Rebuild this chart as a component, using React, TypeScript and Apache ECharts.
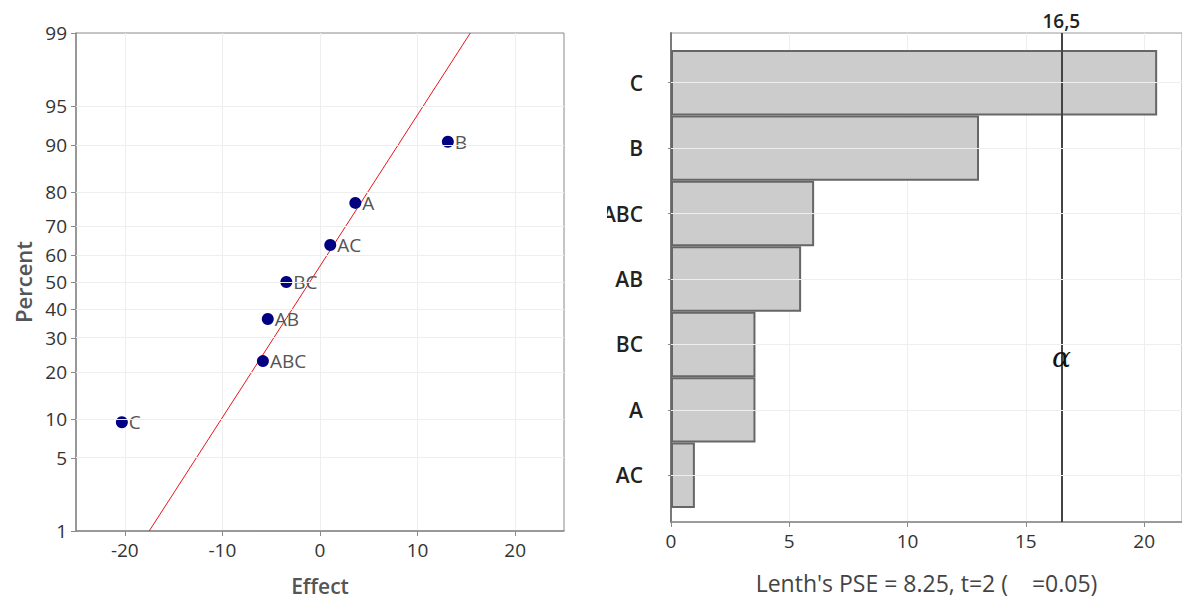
import React, { useEffect, useRef } from "react";
import * as echarts from "echarts";

// ---- Normal probability plot data ----
const effectNames = ["C", "ABC", "AB", "BC", "AC", "A", "B"];
const effectValues = [-20.3, -5.85, -5.35, -3.45, 1.05, 3.62, 13.1];
const effectPercents = [9.5, 23, 36.5, 50, 63.5, 77, 90.5];
const fitLineEffects = [-17.5, 15.4];
const fitLinePercents = [1, 99];
const percentTicks = [1, 5, 10, 20, 30, 40, 50, 60, 70, 80, 90, 95, 99];
const effectTicks = [-20, -10, 0, 10, 20];

// ---- Pareto chart data ----
const paretoTerms = ["C", "B", "ABC", "AB", "BC", "A", "AC"];
const paretoValues = [20.55, 13.02, 6.05, 5.5, 3.57, 3.57, 1.01];
const paretoTicks = [0, 5, 10, 15, 20];
const criticalValue = 16.5;
const criticalLabel = "16,5";

function invNorm(p: number): number {
  const a = [-3.969683028665376e1, 2.209460984245205e2, -2.759285104469687e2, 1.38357751867269e2, -3.066479806614716e1, 2.506628277459239];
  const b = [-5.447609879822406e1, 1.615858368580409e2, -1.556989798598866e2, 6.680131188771972e1, -1.328068155288572e1];
  const c = [-7.784894002430293e-3, -3.223964580411365e-1, -2.400758277161838, -2.549732539343734, 4.374664141464968, 2.938163982698783];
  const d = [7.784695709041462e-3, 3.224671290700398e-1, 2.445134137142996, 3.754408661907416];
  const pl = 0.02425;
  const ph = 1 - pl;
  let q: number, r: number;
  if (p < pl) {
    q = Math.sqrt(-2 * Math.log(p));
    return (((((c[0] * q + c[1]) * q + c[2]) * q + c[3]) * q + c[4]) * q + c[5]) / ((((d[0] * q + d[1]) * q + d[2]) * q + d[3]) * q + 1);
  }
  if (p <= ph) {
    q = p - 0.5;
    r = q * q;
    return ((((((a[0] * r + a[1]) * r + a[2]) * r + a[3]) * r + a[4]) * r + a[5]) * q) / (((((b[0] * r + b[1]) * r + b[2]) * r + b[3]) * r + b[4]) * r + 1);
  }
  q = Math.sqrt(-2 * Math.log(1 - p));
  return -(((((c[0] * q + c[1]) * q + c[2]) * q + c[3]) * q + c[4]) * q + c[5]) / ((((d[0] * q + d[1]) * q + d[2]) * q + d[3]) * q + 1);
}

const zOf = (pct: number) => invNorm(pct / 100);

const FONT = "Open Sans";

export default function App() {
  const ref = useRef<HTMLDivElement>(null);

  useEffect(() => {
    if (!ref.current) return;
    const chart = echarts.init(ref.current, undefined, { renderer: "svg" });
    const zTicks = percentTicks.map(zOf);
    const yMin = zOf(percentTicks[0]);
    const yMax = zOf(percentTicks[percentTicks.length - 1]);

    const option: any = {
      animation: false,
      backgroundColor: "#ffffff",
      textStyle: { fontFamily: FONT },
      grid: [
        { left: 76, top: 33, width: 488, height: 498, show: true, borderColor: "#8a8a8a", borderWidth: 1, backgroundColor: "transparent", outerBoundsMode: "none" },
        { left: 671, top: 33, width: 511, height: 489, show: true, borderColor: "#9a9a9a", borderWidth: 1, backgroundColor: "transparent", outerBoundsMode: "none" },
        { left: 671, top: 50, width: 511, height: 458, outerBoundsMode: "none" },
      ],
      xAxis: [
        {
          gridIndex: 0,
          type: "value",
          min: -25,
          max: 25,
          interval: 5,
          axisLine: { show: true, onZero: false, lineStyle: { color: "#8a8a8a", width: 1.5 } },
          axisTick: { show: true, customValues: effectTicks, length: 5, lineStyle: { color: "#8a8a8a" } },
          axisLabel: { customValues: effectTicks, fontSize: 19, color: "#333", margin: 9, fontFamily: FONT },
          splitLine: { show: true, lineStyle: { color: "#eeeeee", width: 1 } },
          name: "Effect",
          nameLocation: "middle",
          nameGap: 44,
          nameTextStyle: { fontSize: 21, fontWeight: 600, color: "#555", fontFamily: FONT },
        },
        {
          gridIndex: 1,
          type: "value",
          min: 0,
          max: 21.6,
          interval: 5,
          axisLine: { show: true, onZero: false, lineStyle: { color: "#8a8a8a", width: 1.5 } },
          axisTick: { show: true, customValues: paretoTicks, length: 5, lineStyle: { color: "#8a8a8a" } },
          axisLabel: { customValues: paretoTicks, fontSize: 19, color: "#333", margin: 9, fontFamily: FONT },
          splitLine: { show: true, lineStyle: { color: "#eeeeee", width: 1 } },
          name: "Lenth's PSE = 8.25, t=2 (\u00a0\u00a0\u00a0\u00a0=0.05)",
          nameLocation: "middle",
          nameGap: 49,
          nameTextStyle: { fontSize: 23, color: "#444", fontFamily: FONT },
        },
        { gridIndex: 2, type: "value", min: 0, max: 21.6, show: false },
      ],
      yAxis: [
        {
          gridIndex: 0,
          type: "value",
          min: yMin,
          max: yMax,
          axisLine: { show: true, onZero: false, lineStyle: { color: "#8a8a8a", width: 1.5 } },
          axisTick: { show: true, customValues: zTicks, length: 5, lineStyle: { color: "#8a8a8a" } },
          axisLabel: {
            customValues: zTicks,
            fontSize: 19,
            color: "#333",
            margin: 9,
            fontFamily: FONT,
            formatter: (v: number) => {
              const i = zTicks.findIndex((t) => Math.abs(t - v) < 1e-6);
              return i >= 0 ? String(percentTicks[i]) : "";
            },
          },
          splitLine: { show: false },
          name: "Percent",
          nameLocation: "middle",
          nameGap: 42,
          nameTextStyle: { fontSize: 22, fontWeight: 600, color: "#555", fontFamily: FONT },
        },
        {
          gridIndex: 1,
          type: "value",
          min: 0,
          max: 1,
          axisLine: { show: true, onZero: false, lineStyle: { color: "#7a7a7a", width: 2 } },
          axisTick: { show: false },
          axisLabel: { show: false },
          splitLine: { show: false },
        },
        {
          gridIndex: 2,
          type: "category",
          data: paretoTerms,
          inverse: true,
          axisLine: { show: false },
          axisTick: { show: true, alignWithLabel: true, length: 3, lineStyle: { color: "#8a8a8a" } },
          axisLabel: { fontSize: 21, fontWeight: 600, color: "#222", margin: 28, fontFamily: FONT },
          splitLine: { show: false },
        },
      ],
      series: [
        {
          type: "line",
          xAxisIndex: 0,
          yAxisIndex: 0,
          data: [],
          z: 1,
          silent: true,
          markLine: {
            silent: true,
            symbol: "none",
            label: { show: false },
            lineStyle: { color: "#eeeeee", width: 1, type: "solid" },
            data: percentTicks.slice(1, -1).map((p) => ({ yAxis: zOf(p) })),
          },
        },
        {
          type: "line",
          xAxisIndex: 0,
          yAxisIndex: 0,
          data: fitLineEffects.map((x, i) => [x, zOf(fitLinePercents[i])]),
          symbol: "none",
          lineStyle: { color: "#e8141b", width: 1 },
          z: 2,
          silent: true,
        },
        {
          type: "scatter",
          xAxisIndex: 0,
          yAxisIndex: 0,
          data: effectValues.map((v, i) => ({ name: effectNames[i], value: [v, zOf(effectPercents[i])] })),
          symbol: "circle",
          symbolSize: 12,
          itemStyle: { color: "#000080", opacity: 1 },
          label: { show: true, position: "right", formatter: "{b}", fontSize: 19, color: "#555", distance: 1, fontFamily: FONT },
          z: 3,
        },
        {
          type: "scatter",
          xAxisIndex: 1,
          yAxisIndex: 1,
          data: [],
          z: 1,
          silent: true,
          markLine: {
            silent: true,
            symbol: "none",
            lineStyle: { color: "#444", width: 2, type: "solid" },
            label: { show: true, position: "end", formatter: criticalLabel, fontSize: 19, fontWeight: 600, color: "#222", distance: 3, fontFamily: FONT },
            data: [{ xAxis: criticalValue }],
          },
          markPoint: {
            silent: true,
            symbol: "circle",
            symbolSize: 0,
            label: { show: true, position: "inside", formatter: "α", fontSize: 28, fontStyle: "italic", fontWeight: "normal", color: "#111", fontFamily: "DejaVu Serif" },
            data: [{ coord: [criticalValue, 0.337] }],
          },
        },
        {
          type: "line",
          xAxisIndex: 2,
          yAxisIndex: 2,
          data: [],
          z: 1,
          silent: true,
          markLine: {
            silent: true,
            symbol: "none",
            label: { show: false },
            lineStyle: { color: "#eeeeee", width: 1, type: "solid" },
            data: paretoTerms.map((t) => ({ yAxis: t })),
          },
        },
        {
          type: "bar",
          xAxisIndex: 2,
          yAxisIndex: 2,
          data: paretoValues,
          barCategoryGap: "0%",
          itemStyle: { color: "#cccccc", borderColor: "#666666", borderWidth: 2 },
          z: 3,
          silent: true,
        },
      ],
      graphic: [
        { type: "rect", z: 100, silent: true, shape: { x: 572, y: 0, width: 35, height: 599 }, style: { fill: "#ffffff" } },
      ],
    };

    chart.setOption(option);
    return () => chart.dispose();
  }, []);

  return (
    <div
      ref={ref}
      style={{ position: "fixed", left: 0, top: 0, width: 1182, height: 599, background: "#fff" }}
    />
  );
}
